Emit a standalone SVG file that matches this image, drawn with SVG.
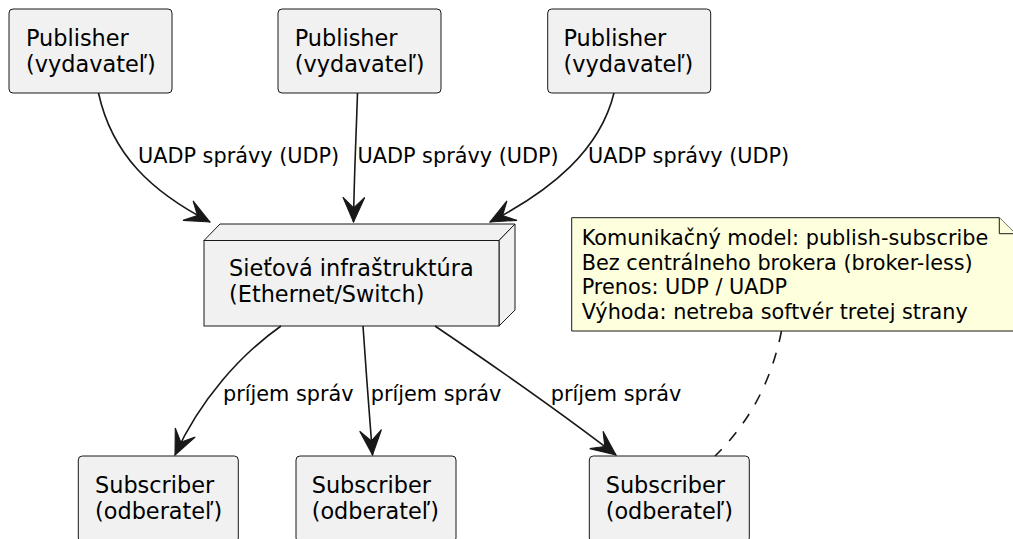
<svg xmlns="http://www.w3.org/2000/svg" width="1013" height="539" viewBox="0 0 1013 539">
<defs>
<style>
.box{fill:#F1F1F1;stroke:#181818;stroke-width:1}
.note{fill:#FEFFDD;stroke:#181818;stroke-width:1}
.t{font-family:"DejaVu Sans",sans-serif;font-size:22.4px;fill:#000}
.l{font-family:"DejaVu Sans",sans-serif;font-size:20.8px;fill:#000}
.e{fill:none;stroke:#181818;stroke-width:1.6}
.d{fill:none;stroke:#181818;stroke-width:1.6;stroke-dasharray:11.2,11.2}
</style>
<marker id="ah" markerUnits="userSpaceOnUse" markerWidth="30" markerHeight="30" refX="0" refY="0" viewBox="-16 -8 17 16" orient="auto" overflow="visible">
<path d="M0,0 L-14,-6.2 L-8,0 L-14,6.2 Z" fill="#181818" stroke="#181818" stroke-width="0.6"/>
</marker>
</defs>
<rect width="1013" height="539" fill="#FFFFFF"/>
<g id="pub1">
<rect class="box" x="9" y="9" width="163" height="84" rx="4"/>
<text class="t" x="26" y="46">Publisher</text>
<text class="t" x="26" y="71.8">(vydavateľ)</text>
</g>
<g id="pub2">
<rect class="box" x="278" y="9" width="163" height="84" rx="4"/>
<text class="t" x="294.7" y="46">Publisher</text>
<text class="t" x="294.7" y="71.8">(vydavateľ)</text>
</g>
<g id="pub3">
<rect class="box" x="547.7" y="9" width="163" height="84" rx="4"/>
<text class="t" x="563.5" y="46">Publisher</text>
<text class="t" x="563.5" y="71.8">(vydavateľ)</text>
</g>
<g id="network">
<polygon class="box" points="204,240.5 220,224 515,224 499,240.5"/>
<polygon class="box" points="499,240.5 515,224 515,310 499,326"/>
<rect class="box" x="204" y="240.5" width="295" height="85.5"/>
<text class="t" x="229" y="276">Sieťová infraštruktúra</text>
<text class="t" x="229" y="301.8">(Ethernet/Switch)</text>
</g>
<g id="sub1">
<rect class="box" x="78.3" y="456" width="160" height="86" rx="4"/>
<text class="t" x="95" y="493.3">Subscriber</text>
<text class="t" x="95" y="519.1">(odberateľ)</text>
</g>
<g id="sub2">
<rect class="box" x="296" y="456" width="160" height="86" rx="4"/>
<text class="t" x="311.7" y="493.3">Subscriber</text>
<text class="t" x="311.7" y="519.1">(odberateľ)</text>
</g>
<g id="sub3">
<rect class="box" x="589.3" y="456" width="160" height="86" rx="4"/>
<text class="t" x="605.7" y="493.3">Subscriber</text>
<text class="t" x="605.7" y="519.1">(odberateľ)</text>
</g>
<g id="note">
<path class="note" d="M571.7,217.7 L999.3,217.7 L1015.3,233.7 L1015.3,331 L571.7,331 Z"/>
<path class="note" d="M999.3,217.7 L999.3,233.7 L1015.3,233.7"/>
<text class="l" x="581.7" y="245.3">Komunikačný model: publish-subscribe</text>
<text class="l" x="581.7" y="269.8">Bez centrálneho brokera (broker-less)</text>
<text class="l" x="581.7" y="294.3">Prenos: UDP / UADP</text>
<text class="l" x="581.7" y="318.8">Výhoda: netreba softvér tretej strany</text>
</g>
<g id="connectors">
<path class="e" d="M98.5,93 C112,155 152,192 210,222" marker-end="url(#ah)"/>
<path class="e" d="M357.5,93 C356,140 354,180 353.5,222" marker-end="url(#ah)"/>
<path class="e" d="M614,93 C600,150 552,190 490,222" marker-end="url(#ah)"/>
<path class="e" d="M281,326 C240,355 200,400 175,455" marker-end="url(#ah)"/>
<path class="e" d="M363,326 C366,370 369,410 372.5,455" marker-end="url(#ah)"/>
<path class="e" d="M435,326 C500,370 560,412 616,455" marker-end="url(#ah)"/>
<path class="d" d="M781.5,331 C772,378 752,420 715,456"/>
<text class="l" x="138" y="163">UADP správy (UDP)</text>
<text class="l" x="357.5" y="163">UADP správy (UDP)</text>
<text class="l" x="588" y="163">UADP správy (UDP)</text>
<text class="l" x="223" y="401">príjem správ</text>
<text class="l" x="370.7" y="401">príjem správ</text>
<text class="l" x="550.7" y="401">príjem správ</text>
</g>
</svg>
